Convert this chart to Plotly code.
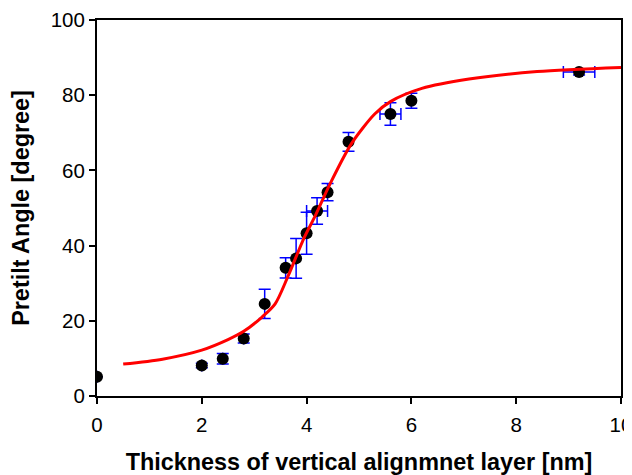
import plotly.graph_objects as go

# measured points (thickness nm, pretilt deg) with error bars
thickness = [0.0, 2.0, 2.4, 2.8, 3.2, 3.6, 3.8, 4.0, 4.2, 4.4, 4.8, 5.6, 6.0, 9.2]
pretilt = [5.1, 8.1, 9.9, 15.3, 24.5, 34.1, 36.6, 43.3, 49.2, 54.2, 67.6, 75.0, 78.5, 86.2]
pretilt_err = [0, 0.6, 1.4, 1.2, 3.9, 2.7, 5.3, 5.6, 3.5, 2.3, 2.5, 3.0, 2.0, 0.8]
thickness_err = [0, 0, 0, 0, 0, 0, 0, 0, 0.2, 0, 0, 0.2, 0, 0.3]

# fitted curve
fit_x = [0.5, 1.25, 2.0, 2.5, 2.8, 3.15, 3.4, 3.65, 3.95, 4.15, 4.45, 4.85, 5.3, 5.6, 6.2, 7.1, 8.4, 10.0]
fit_y = [8.5, 9.8, 12.2, 15.0, 17.2, 21.0, 24.5, 32.0, 42.0, 47.5, 56.5, 67.0, 75.0, 78.3, 81.8, 84.3, 86.3, 87.4]

font_name = 'Liberation Sans, Arial'

fig = go.Figure()

fig.add_trace(go.Scatter(
    x=thickness, y=pretilt, mode='markers',
    marker=dict(size=12, color='black'),
    error_y=dict(type='data', array=pretilt_err, color='#0000ff', thickness=1.5, width=6),
    error_x=dict(type='data', array=thickness_err, color='#0000ff', thickness=1.5, width=6),
    showlegend=False,
))

fig.add_trace(go.Scatter(
    x=fit_x, y=fit_y, mode='lines',
    line=dict(color='#ff0000', width=3, shape='spline', smoothing=0.8),
    showlegend=False,
))

axis_common = dict(
    showline=True, linecolor='black', linewidth=2, mirror=True,
    ticks='outside', ticklen=6, tickwidth=2, tickcolor='black',
    showgrid=False, zeroline=False, automargin=False,
    ticklabeloverflow='allow',
    tickfont=dict(family=font_name, size=20.5, color='black'),
)

# the page body has an 8px margin, so the figure is a bit smaller and shifted
fig.update_layout(
    width=624, height=467,
    margin=dict(l=89, r=11, t=12, b=79),
    paper_bgcolor='white', plot_bgcolor='white',
    xaxis=dict(
        range=[0, 10], tickvals=[0, 2, 4, 6, 8, 10],
        ticklabelstandoff=3,
        title=dict(text='<b>Thickness of vertical alignmnet layer [nm]</b>',
                   font=dict(family=font_name, size=23.4, color='black'),
                   standoff=20),
        **axis_common,
    ),
    yaxis=dict(
        range=[0, 100], tickvals=[0, 20, 40, 60, 80, 100],
        title=dict(text='<b>Pretilt Angle [degree]</b>',
                   font=dict(family=font_name, size=23.4, color='black'),
                   standoff=16),
        **axis_common,
    ),
)

fig.write_html("out.html")
